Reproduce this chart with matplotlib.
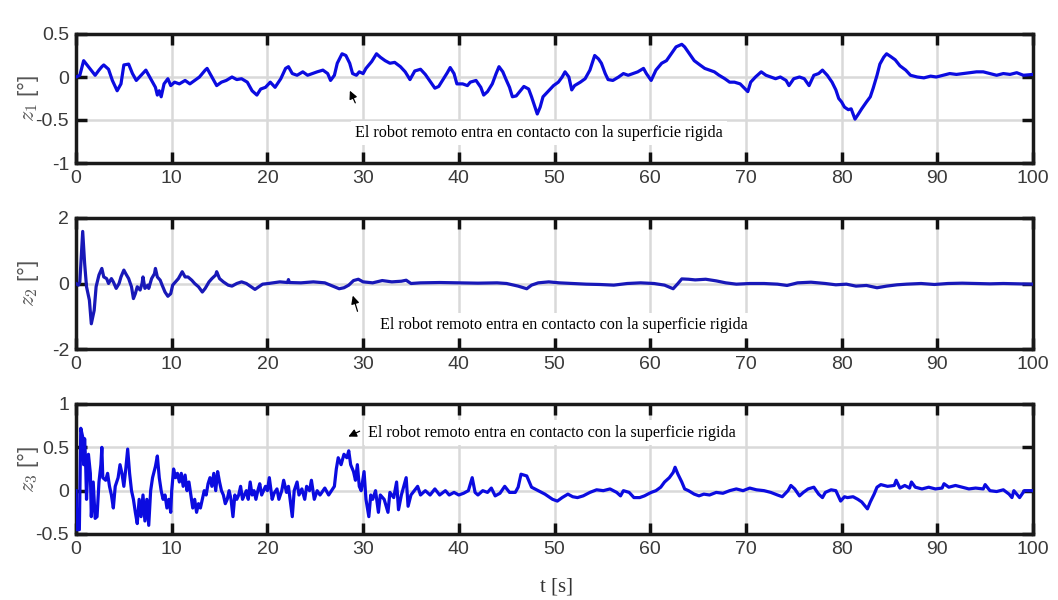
import matplotlib
matplotlib.use("Agg")
import matplotlib.pyplot as plt

plt.rcParams["axes.unicode_minus"] = False
plt.rcParams["mathtext.fontset"] = "cm"

# Error signals z1, z2, z3 [deg] versus time [s], as (t, value) pairs
z1_points = [
    (0, 0.0), (0.4, 0.02), (0.8, 0.19), (1.3, 0.12), (2.0, 0.02), (2.4, 0.08), (2.7, 0.12), (2.9, 0.14),
    (3.4, 0.09), (3.8, -0.04), (4.3, -0.16), (4.7, -0.08), (5.0, 0.14), (5.5, 0.15), (5.9, 0.04), (6.3, -0.04),
    (6.8, 0.02), (7.3, 0.08), (7.8, -0.02), (8.3, -0.12), (8.5, -0.21), (8.7, -0.16), (8.9, -0.23), (9.2, -0.08),
    (9.6, -0.02), (9.9, -0.10), (10.3, -0.06), (10.8, -0.08), (11.4, -0.04), (11.9, -0.08), (12.4, -0.04),
    (12.9, 0.0), (13.5, 0.08), (13.7, 0.10), (14.2, 0.0), (14.7, -0.10), (15.2, -0.06), (15.7, -0.04),
    (16.3, 0.0), (16.8, -0.03), (17.3, -0.02), (17.9, -0.06), (18.4, -0.16), (18.9, -0.21), (19.3, -0.14),
    (19.8, -0.12), (20.3, -0.06), (20.8, -0.12), (21.4, -0.02), (21.9, 0.10), (22.2, 0.12), (22.6, 0.04),
    (23.1, 0.02), (23.7, 0.06), (24.2, 0.02), (24.7, 0.04), (25.2, 0.06), (25.8, 0.08), (26.3, 0.04),
    (26.6, -0.04), (27.0, 0.02), (27.3, 0.16), (27.8, 0.27), (28.2, 0.25), (28.6, 0.16), (28.9, 0.04),
    (29.3, 0.02), (29.6, 0.06), (30.0, 0.04), (30.3, 0.10), (30.9, 0.18), (31.4, 0.27), (31.8, 0.23),
    (32.3, 0.19), (32.8, 0.16), (33.3, 0.17), (33.9, 0.12), (34.4, 0.06), (34.9, -0.03), (35.4, 0.07),
    (36.0, 0.09), (36.5, 0.03), (37.0, -0.05), (37.5, -0.13), (37.9, -0.11), (38.4, -0.02), (38.8, 0.05),
    (39.1, 0.11), (39.5, 0.04), (39.8, -0.08), (40.4, -0.08), (40.9, -0.10), (41.2, -0.06), (41.8, -0.04),
    (42.3, -0.12), (42.6, -0.21), (43.0, -0.17), (43.5, -0.08), (43.9, 0.04), (44.2, 0.12), (44.6, 0.06),
    (44.9, -0.02), (45.3, -0.12), (45.6, -0.23), (46.0, -0.22), (46.5, -0.15), (46.8, -0.11), (47.3, -0.14),
    (47.6, -0.23), (47.9, -0.33), (48.2, -0.43), (48.5, -0.35), (48.8, -0.23), (49.4, -0.16), (49.9, -0.10),
    (50.4, -0.06), (50.8, 0.0), (51.1, 0.06), (51.5, 0.0), (51.8, -0.15), (52.1, -0.10), (52.7, -0.06),
    (53.2, -0.02), (53.7, 0.08), (54.2, 0.25), (54.6, 0.21), (54.9, 0.16), (55.3, 0.04), (55.6, -0.03),
    (56.1, -0.04), (56.7, 0.0), (57.2, 0.04), (57.7, 0.02), (58.2, 0.04), (58.7, 0.06), (59.3, 0.10),
    (59.6, 0.04), (60.1, -0.04), (60.6, 0.08), (61.2, 0.16), (61.7, 0.19), (62.2, 0.27), (62.7, 0.35),
    (63.3, 0.38), (63.6, 0.35), (64.1, 0.27), (64.6, 0.19), (65.2, 0.14), (65.7, 0.10), (66.2, 0.08),
    (66.7, 0.06), (67.2, 0.02), (67.8, -0.02), (68.3, -0.06), (68.8, -0.06), (69.4, -0.08), (70.2, -0.17),
    (70.5, -0.06), (71.0, 0.0), (71.6, 0.06), (72.1, 0.02), (72.6, 0.0), (73.1, -0.02), (73.6, 0.0),
    (74.2, -0.04), (74.5, -0.10), (75.0, -0.02), (75.6, 0.0), (76.1, -0.02), (76.6, -0.10), (77.1, 0.02),
    (77.6, 0.04), (78.0, 0.08), (78.5, 0.02), (79.0, -0.06), (79.4, -0.15), (79.7, -0.25), (80.0, -0.29),
    (80.3, -0.35), (80.7, -0.38), (81.0, -0.37), (81.4, -0.49), (81.7, -0.44), (82.1, -0.37), (82.6, -0.29),
    (83.0, -0.23), (83.3, -0.13), (83.7, 0.02), (84.0, 0.15), (84.4, 0.23), (84.7, 0.27), (85.1, 0.24),
    (85.6, 0.20), (86.1, 0.13), (86.7, 0.08), (87.2, 0.02), (87.9, 0.0), (88.6, -0.01), (89.3, 0.01),
    (89.9, 0.0), (90.6, 0.02), (91.3, 0.04), (92.0, 0.03), (92.7, 0.04), (93.4, 0.05), (94.1, 0.06),
    (94.8, 0.06), (95.5, 0.04), (96.2, 0.02), (96.9, 0.04), (97.6, 0.03), (98.3, 0.05), (99.0, 0.02), (100, 0.03),
]

z2_points = [
    (0, 0.0), (0.25, -0.05), (0.4, 0.05), (0.7, 1.59), (0.9, 0.62), (1.1, -0.1), (1.4, -0.51), (1.6, -1.23),
    (1.9, -0.82), (2.1, -0.1), (2.4, 0.26), (2.7, 0.46), (2.9, 0.2), (3.2, 0.15), (3.4, 0.0), (3.7, 0.15),
    (3.9, 0.05), (4.2, -0.15), (4.5, 0.0), (4.7, 0.2), (5.0, 0.41), (5.2, 0.3), (5.5, 0.15), (5.8, -0.1),
    (6.0, -0.46), (6.2, -0.31), (6.4, -0.1), (6.7, -0.2), (6.9, 0.0), (7.0, 0.2), (7.2, -0.15), (7.5, -0.05),
    (7.6, -0.15), (7.9, 0.15), (8.2, 0.3), (8.3, 0.46), (8.5, 0.2), (8.8, 0.1), (9.0, -0.05), (9.3, -0.26),
    (9.6, -0.39), (9.9, -0.31), (10.1, -0.05), (10.4, 0.05), (10.7, 0.15), (11.1, 0.36), (11.4, 0.2),
    (11.7, 0.2), (12.1, 0.1), (12.4, 0.0), (12.8, -0.1), (13.2, -0.26), (13.5, -0.15), (13.9, 0.05),
    (14.2, 0.15), (14.6, 0.26), (14.7, 0.36), (15.0, 0.15), (15.4, 0.05), (15.9, -0.05), (16.3, -0.08),
    (16.8, 0.0), (17.3, 0.05), (17.8, 0.0), (18.3, -0.1), (18.7, -0.18), (19.1, -0.1), (19.5, -0.02),
    (20.1, 0.0), (21.3, 0.05), (22.1, 0.03), (22.2, 0.12), (22.3, 0.03), (23.5, 0.02), (24.8, 0.05),
    (26.0, 0.02), (27.0, -0.1), (27.5, -0.16), (28.0, -0.13), (28.5, -0.05), (29.0, 0.09), (29.5, 0.13),
    (30.0, 0.05), (31.0, 0.02), (32.0, 0.09), (33.0, 0.05), (34.0, 0.07), (34.5, 0.1), (35.0, 0.0),
    (36.0, 0.02), (38.0, 0.03), (40.0, 0.02), (42.0, 0.01), (44.0, 0.02), (45.0, 0.0), (46.2, -0.08),
    (47.1, -0.16), (47.6, -0.05), (48.3, 0.02), (49.4, 0.05), (50.5, 0.02), (51.9, 0.0), (53.3, -0.02),
    (54.7, -0.03), (56.2, -0.05), (57.6, 0.0), (59.0, 0.02), (60.4, 0.0), (61.5, -0.05), (62.4, -0.16),
    (62.9, 0.0), (63.3, 0.14), (64.0, 0.13), (64.7, 0.11), (65.8, 0.13), (66.9, 0.08), (67.9, 0.02),
    (69.0, -0.02), (70.4, 0.0), (71.9, 0.0), (73.3, -0.02), (74.3, -0.06), (75.4, 0.02), (76.8, 0.04),
    (78.3, 0.0), (79.4, -0.04), (80.5, -0.02), (81.5, -0.08), (82.6, -0.06), (83.7, -0.13), (84.7, -0.08),
    (85.8, -0.04), (86.8, -0.02), (88.3, 0.0), (89.7, -0.03), (91.1, 0.0), (92.6, 0.01), (94.0, 0.0),
    (95.5, -0.01), (96.9, 0.0), (98.4, -0.01), (100, -0.02),
]

z3_points = [
    (0, 0.0), (0.1, -0.45), (0.35, -0.45), (0.5, 0.72), (0.7, 0.62), (0.8, 0.3), (0.9, 0.6), (1.0, 0.35),
    (1.1, -0.1), (1.3, 0.42), (1.5, 0.2), (1.6, -0.3), (1.8, 0.1), (2.0, -0.32), (2.2, -0.3), (2.4, 0.1),
    (2.6, 0.3), (2.7, 0.5), (2.8, 0.15), (3.1, 0.12), (3.3, 0.2), (3.5, 0.05), (3.7, -0.05), (3.9, -0.2),
    (4.1, 0.05), (4.4, 0.15), (4.6, 0.3), (4.8, 0.2), (5.0, 0.05), (5.2, 0.25), (5.4, 0.48), (5.6, 0.2),
    (5.8, 0.0), (6.0, -0.1), (6.2, -0.25), (6.4, -0.38), (6.6, -0.1), (6.8, -0.3), (7.0, -0.05), (7.2, -0.35),
    (7.4, -0.1), (7.6, -0.4), (7.8, 0.0), (8.0, 0.15), (8.3, 0.28), (8.5, 0.4), (8.7, 0.15), (8.9, 0.0),
    (9.1, -0.1), (9.3, -0.05), (9.5, -0.2), (9.7, -0.1), (9.9, -0.25), (10.0, 0.0), (10.2, 0.25), (10.4, 0.15),
    (10.6, 0.2), (10.8, 0.1), (11.0, 0.2), (11.2, 0.05), (11.4, 0.18), (11.6, 0.0), (11.8, 0.1), (12.0, -0.05),
    (12.2, -0.2), (12.4, -0.1), (12.6, -0.25), (12.8, -0.15), (13.0, -0.2), (13.2, -0.1), (13.4, 0.0),
    (13.6, -0.05), (13.8, 0.08), (14.0, 0.15), (14.2, 0.05), (14.4, 0.2), (14.6, 0.0), (14.8, 0.22),
    (15.0, 0.1), (15.2, 0.0), (15.4, -0.05), (15.6, -0.15), (15.8, -0.1), (16.0, 0.0), (16.2, -0.1),
    (16.4, -0.3), (16.6, -0.05), (16.8, -0.1), (17.0, -0.05), (17.2, 0.05), (17.4, -0.1), (17.6, -0.05),
    (17.8, 0.0), (18.0, -0.1), (18.2, 0.1), (18.4, -0.05), (18.6, 0.0), (18.8, -0.1), (19.0, 0.0),
    (19.2, 0.08), (19.4, -0.05), (19.6, 0.0), (19.8, 0.05), (20.0, 0.0), (20.2, 0.15), (20.5, -0.1),
    (20.7, -0.03), (21.0, 0.02), (21.2, -0.1), (21.5, 0.0), (21.7, 0.12), (22.0, -0.02), (22.2, 0.05),
    (22.6, -0.3), (22.8, 0.0), (23.1, 0.1), (23.3, -0.05), (23.6, 0.02), (23.9, -0.1), (24.1, 0.05),
    (24.4, 0.0), (24.6, 0.12), (24.9, -0.1), (25.2, 0.0), (25.5, -0.05), (26.0, 0.03), (26.4, -0.05),
    (27.0, 0.05), (27.2, 0.25), (27.4, 0.38), (27.7, 0.3), (28.0, 0.42), (28.3, 0.38), (28.5, 0.46),
    (28.7, 0.3), (29.0, 0.22), (29.2, 0.12), (29.4, 0.3), (29.6, 0.05), (29.8, 0.0), (30.1, 0.22),
    (30.3, -0.1), (30.6, -0.3), (30.8, -0.05), (31.0, -0.1), (31.3, 0.0), (31.6, -0.25), (31.8, -0.05),
    (32.2, -0.1), (32.6, -0.25), (32.8, -0.02), (33.2, -0.08), (33.5, 0.1), (33.7, -0.22), (34.0, -0.05),
    (34.5, 0.15), (34.7, -0.18), (35.0, -0.05), (35.7, 0.05), (36.0, -0.05), (36.5, 0.0), (37.0, -0.05),
    (37.5, 0.02), (38.0, -0.05), (38.6, 0.0), (39.0, -0.05), (39.5, -0.02), (40.0, -0.05), (40.5, -0.03),
    (41.0, 0.0), (41.4, 0.15), (41.7, -0.02), (42.0, -0.05), (42.5, 0.0), (43.0, -0.02), (43.4, 0.03),
    (43.8, -0.06), (44.3, -0.03), (44.8, 0.05), (45.3, -0.02), (45.9, -0.02), (46.2, 0.04), (46.5, 0.19),
    (47.1, 0.17), (47.6, 0.04), (48.3, 0.0), (49.0, -0.04), (49.8, -0.1), (50.3, -0.12), (50.8, -0.08),
    (51.4, -0.04), (51.9, -0.07), (52.4, -0.08), (53.0, -0.06), (53.7, -0.02), (54.4, 0.01), (55.1, 0.0),
    (55.8, 0.02), (56.5, -0.02), (56.9, -0.06), (57.2, 0.0), (57.8, -0.02), (58.3, -0.08), (58.9, -0.08),
    (59.4, -0.06), (60.1, -0.02), (60.6, 0.0), (61.1, 0.04), (61.5, 0.1), (62.0, 0.15), (62.4, 0.21),
    (62.6, 0.27), (62.9, 0.19), (63.3, 0.1), (63.6, 0.02), (64.0, 0.0), (64.6, -0.04), (65.1, -0.06),
    (65.6, -0.04), (66.2, -0.05), (66.9, -0.02), (67.6, -0.03), (68.3, 0.0), (69.0, 0.02), (69.7, 0.0),
    (70.4, 0.03), (71.1, 0.01), (71.9, 0.0), (72.6, -0.02), (73.3, -0.05), (73.8, -0.07), (74.4, 0.0),
    (74.7, 0.06), (75.1, 0.02), (75.6, -0.06), (76.0, -0.02), (76.5, 0.02), (77.1, 0.04), (77.6, -0.04),
    (78.0, -0.08), (78.3, -0.02), (78.9, 0.01), (79.4, 0.0), (79.9, -0.12), (80.3, -0.07), (80.6, -0.08),
    (81.2, -0.07), (81.7, -0.1), (82.1, -0.13), (82.4, -0.17), (82.7, -0.21), (83.0, -0.13), (83.4, -0.04),
    (83.7, 0.04), (84.1, 0.07), (84.8, 0.05), (85.5, 0.06), (85.7, 0.12), (86.1, 0.03), (86.6, 0.06),
    (87.1, 0.03), (87.3, 0.1), (87.7, 0.04), (88.4, 0.02), (89.1, 0.04), (89.8, 0.02), (90.5, 0.03),
    (90.7, 0.08), (91.2, 0.04), (91.9, 0.06), (92.6, 0.04), (93.3, 0.02), (94.0, 0.03), (94.8, 0.02),
    (95.0, 0.07), (95.5, 0.0), (96.2, -0.01), (96.9, 0.01), (97.5, -0.04), (97.8, -0.08), (98.0, 0.0),
    (98.6, -0.08), (99.1, 0.0), (100, 0.0),
]

x_ticks = [0, 10, 20, 30, 40, 50, 60, 70, 80, 90, 100]
y_ticks = [[-1, -0.5, 0, 0.5], [-2, 0, 2], [-0.5, 0, 0.5, 1]]
y_limits = [(-1, 0.5), (-2, 2), (-0.5, 1)]
y_labels = [r"$z_1$ [°]", r"$z_2$ [°]", r"$z_3$ [°]"]
line_colors = ["#0b0be0", "#1818b8", "#0b0be0"]

note = "El robot remoto entra en contacto con la superficie rigida"
# (text position, arrow head, arrow tail) in data coordinates per panel
note_text = [(29.15, -0.65), (31.8, -1.28), (30.5, 0.67)]
note_head = [(28.5, -0.13), (28.84, -0.29), (28.2, 0.61)]
note_tail = [(29.3, -0.33), (29.5, -0.93), (29.9, 0.70)]

fig = plt.figure(figsize=(10.58, 6.0), dpi=100)
left, width = 76 / 1058, (1033 - 76) / 1058
panel_boxes = [
    (left, 1 - 163 / 600, width, 129 / 600),
    (left, 1 - 349 / 600, width, 131 / 600),
    (left, 1 - 534 / 600, width, 130 / 600),
]

series = [z1_points, z2_points, z3_points]
for i, pts in enumerate(series):
    ax = fig.add_axes(panel_boxes[i])
    t, z = zip(*pts)
    ax.plot(t, z, color=line_colors[i], lw=2.3, zorder=3)
    ax.set_xlim(0, 100)
    ax.set_ylim(*y_limits[i])
    ax.set_xticks(x_ticks)
    ax.set_yticks(y_ticks[i])
    ax.set_xticklabels([str(v) for v in x_ticks])
    ax.set_yticklabels([f"{v:g}" for v in y_ticks[i]])
    ax.grid(True, color="#d9d9d9", lw=1.8, zorder=0)
    ax.set_axisbelow(True)
    ax.tick_params(direction="in", length=8, width=2.5, color="#111111",
                   top=True, right=True, labelsize=14, labelcolor="#3a3a3a", pad=5)
    for lab in ax.get_xticklabels() + ax.get_yticklabels():
        lab.set_fontfamily("Liberation Sans")
    for sp in ax.spines.values():
        sp.set_linewidth(2.5)
        sp.set_color("#1a1a1a")
    ax.set_ylabel(y_labels[i], fontsize=16, color="#555555", family="Liberation Sans",
                  va="center")
    ax.yaxis.set_label_coords(-0.05, 0.5)

    ax.annotate("", xy=note_head[i], xytext=note_tail[i],
                arrowprops=dict(arrowstyle="-|>", color="black", lw=0.9, mutation_scale=12),
                zorder=5)
    ax.text(note_text[i][0], note_text[i][1], note, family="Liberation Serif",
            fontsize=11.6, color="black", ha="left", va="center", zorder=4,
            bbox=dict(facecolor="white", edgecolor="none", pad=3))

fig.text(556 / 1058, 1 - 587 / 600, "t [s]", family="Liberation Serif",
         fontsize=15, color="#333333", ha="center", va="center")

fig.savefig("out.png", dpi=100, facecolor="white")
